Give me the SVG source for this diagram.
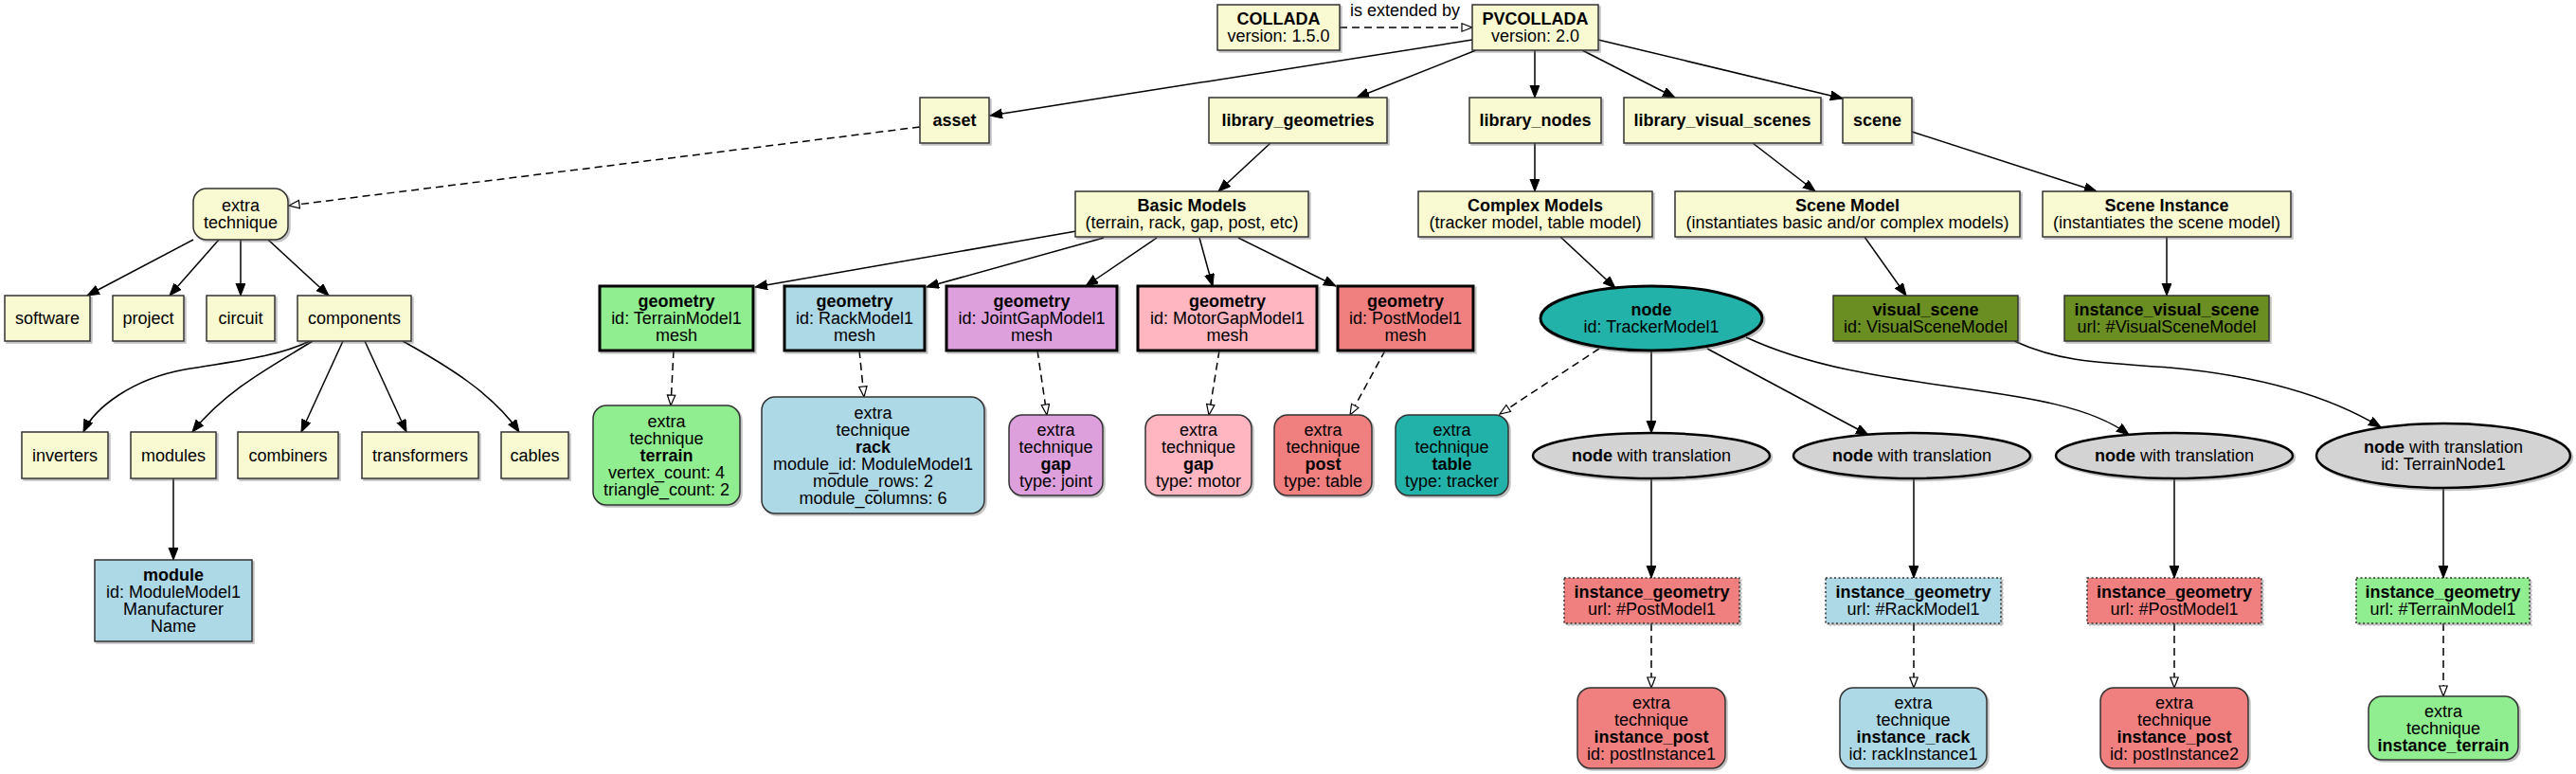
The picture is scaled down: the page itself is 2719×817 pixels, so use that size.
<svg xmlns="http://www.w3.org/2000/svg" width="2719" height="817" viewBox="0 0 2719 817">
<style>
text{font-family:"Liberation Sans",Arial,Helvetica,sans-serif;font-size:18px;text-anchor:middle;fill:#000}
.bd{font-weight:bold}
.box{stroke:#333;stroke-width:1.5}
.thick{stroke:#000;stroke-width:3}
.ell{stroke:#000;stroke-width:2.5}
.dot{stroke:#333;stroke-width:1.5;stroke-dasharray:2,2.5}
.y{fill:#fafad2}.g{fill:#90ee90}.b{fill:#add8e6}.p{fill:#dda0dd}.k{fill:#ffb6c1}.c{fill:#f08080}.t{fill:#20b2aa}.o{fill:#6b8e23}.gr{fill:#d3d3d3}
.e{fill:none;stroke:#000;stroke-width:1.5;marker-end:url(#ah)}
.d{fill:none;stroke:#000;stroke-width:1.5;stroke-dasharray:8,5;marker-end:url(#oh)}
.sh{filter:url(#shadow)}
</style>
<defs>
<marker id="ah" markerUnits="userSpaceOnUse" markerWidth="14" markerHeight="11" refX="13" refY="5" orient="auto">
<path d="M0,0 L13,5 L0,10 z" fill="#000" stroke="#000" stroke-width="1"/>
</marker>
<marker id="oh" markerUnits="userSpaceOnUse" markerWidth="14" markerHeight="11" refX="12" refY="5" orient="auto">
<path d="M1,0.8 L12,5 L1,9.2 z" fill="#fff" stroke="#000" stroke-width="1.2"/>
</marker>
<filter id="shadow" x="-5%" y="-5%" width="115%" height="125%">
<feDropShadow dx="2" dy="2" stdDeviation="0.6" flood-color="#666" flood-opacity="0.4"/>
</filter>
</defs>
<rect width="2719" height="817" fill="#fff"/>

<g id="edges">
<path class="d" d="M1414,29 L1554,29"/>
<text x="1483" y="17">is extended by</text>
<path class="e" d="M1554,42 L1045,122"/>
<path class="e" d="M1558,53 L1432,103"/>
<path class="e" d="M1620,53 L1620,103"/>
<path class="e" d="M1670,53 L1768,103"/>
<path class="e" d="M1687,42 L1945,104"/>
<path class="d" d="M971,134 L305,217"/>
<path class="e" d="M1341,151 L1286,202"/>
<path class="e" d="M1620,151 L1620,202"/>
<path class="e" d="M1850,151 L1916,202"/>
<path class="e" d="M2018,139 L2213,202"/>
<path class="e" d="M204,253 L92,312"/>
<path class="e" d="M231,253 L179,312"/>
<path class="e" d="M254,253 L254,312"/>
<path class="e" d="M283,253 L347,312"/>
<path class="e" d="M327,360 C290,378 240,382 195,390 C140,400 100,430 88,456"/>
<path class="e" d="M330,360 C290,385 240,410 203,456"/>
<path class="e" d="M362,360 L318,456"/>
<path class="e" d="M385,360 L429,456"/>
<path class="e" d="M425,360 C470,385 520,415 548,456"/>
<path class="e" d="M183,505 L183,591"/>
<path class="e" d="M1136,244 L797,303"/>
<path class="e" d="M1165,251 L978,303"/>
<path class="e" d="M1221,251 L1146,302"/>
<path class="e" d="M1266,251 L1280,302"/>
<path class="e" d="M1307,251 L1410,302"/>
<path class="d" d="M711,370 L708,428"/>
<path class="d" d="M907,370 L912,419"/>
<path class="d" d="M1095,370 L1105,438"/>
<path class="d" d="M1287,370 L1276,438"/>
<path class="d" d="M1462,370 L1425,438"/>
<path class="e" d="M1647,250 L1705,304"/>
<path class="e" d="M1968,250 L2012,312"/>
<path class="e" d="M2287,250 L2287,312"/>
<path class="d" d="M1688,368 L1583,437"/>
<path class="e" d="M1743,370 L1743,457"/>
<path class="e" d="M1802,368 L1972,459"/>
<path class="e" d="M1843,356 C1980,420 2170,400 2247,459"/>
<path class="e" d="M2126,360 C2170,380 2200,382 2290,388 C2400,398 2470,425 2513,451"/>
<path class="e" d="M1743,505 L1743,610"/>
<path class="e" d="M2020,505 L2020,610"/>
<path class="e" d="M2295,505 L2295,610"/>
<path class="e" d="M2579,515 L2579,610"/>
<path class="d" d="M1743,658 L1743,726"/>
<path class="d" d="M2020,658 L2020,726"/>
<path class="d" d="M2295,658 L2295,726"/>
<path class="d" d="M2579,658 L2579,735"/>
</g>

<g id="collada"><rect class="box y sh" x="1285" y="5" width="129" height="48"/><text x="1349.5" y="26" class="bd">COLLADA</text><text x="1349.5" y="44">version: 1.5.0</text></g>
<g id="pvcollada"><rect class="box y sh" x="1554" y="5" width="133" height="48"/><text x="1620.5" y="26" class="bd">PVCOLLADA</text><text x="1620.5" y="44">version: 2.0</text></g>

<g id="asset"><rect class="box y sh" x="971" y="103" width="73" height="48"/><text x="1007.5" y="133" class="bd">asset</text></g>
<g id="library_geometries"><rect class="box y sh" x="1276" y="103" width="188" height="48"/><text x="1370" y="133" class="bd">library_geometries</text></g>
<g id="library_nodes"><rect class="box y sh" x="1551" y="103" width="139" height="48"/><text x="1620.5" y="133" class="bd">library_nodes</text></g>
<g id="library_visual_scenes"><rect class="box y sh" x="1714" y="103" width="208" height="48"/><text x="1818" y="133" class="bd">library_visual_scenes</text></g>
<g id="scene"><rect class="box y sh" x="1945" y="103" width="73" height="48"/><text x="1981.5" y="133" class="bd">scene</text></g>

<g id="asset_extra"><rect class="box y sh" x="204" y="199" width="100" height="54" rx="14"/><text x="254" y="223">extra</text><text x="254" y="241">technique</text></g>
<g id="basic_models"><rect class="box y sh" x="1135" y="202" width="246" height="48"/><text x="1258" y="223" class="bd">Basic Models</text><text x="1258" y="241">(terrain, rack, gap, post, etc)</text></g>
<g id="complex_models"><rect class="box y sh" x="1497" y="202" width="247" height="48"/><text x="1620.5" y="223" class="bd">Complex Models</text><text x="1620.5" y="241">(tracker model, table model)</text></g>
<g id="scene_model"><rect class="box y sh" x="1768" y="202" width="364" height="48"/><text x="1950" y="223" class="bd">Scene Model</text><text x="1950" y="241">(instantiates basic and/or complex models)</text></g>
<g id="scene_instance"><rect class="box y sh" x="2156" y="202" width="262" height="48"/><text x="2287" y="223" class="bd">Scene Instance</text><text x="2287" y="241">(instantiates the scene model)</text></g>

<g id="software"><rect class="box y sh" x="5" y="312" width="90" height="48"/><text x="50" y="342">software</text></g>
<g id="project"><rect class="box y sh" x="119" y="312" width="75" height="48"/><text x="156.5" y="342">project</text></g>
<g id="circuit"><rect class="box y sh" x="218" y="312" width="72" height="48"/><text x="254" y="342">circuit</text></g>
<g id="components"><rect class="box y sh" x="314" y="312" width="120" height="48"/><text x="374" y="342">components</text></g>

<g id="geom_terrain"><rect class="thick g sh" x="633" y="302" width="162" height="68"/><text x="714" y="324" class="bd">geometry</text><text x="714" y="342">id: TerrainModel1</text><text x="714" y="360">mesh</text></g>
<g id="geom_rack"><rect class="thick b sh" x="828" y="302" width="148" height="68"/><text x="902" y="324" class="bd">geometry</text><text x="902" y="342">id: RackModel1</text><text x="902" y="360">mesh</text></g>
<g id="geom_joint"><rect class="thick p sh" x="999" y="302" width="180" height="68"/><text x="1089" y="324" class="bd">geometry</text><text x="1089" y="342">id: JointGapModel1</text><text x="1089" y="360">mesh</text></g>
<g id="geom_motor"><rect class="thick k sh" x="1201" y="302" width="189" height="68"/><text x="1295.5" y="324" class="bd">geometry</text><text x="1295.5" y="342">id: MotorGapModel1</text><text x="1295.5" y="360">mesh</text></g>
<g id="geom_post"><rect class="thick c sh" x="1412" y="302" width="143" height="68"/><text x="1483.5" y="324" class="bd">geometry</text><text x="1483.5" y="342">id: PostModel1</text><text x="1483.5" y="360">mesh</text></g>

<g id="node_tracker"><ellipse class="thick t sh" cx="1743" cy="336" rx="117" ry="34"/><text x="1743" y="333" class="bd">node</text><text x="1743" y="351">id: TrackerModel1</text></g>
<g id="visual_scene"><rect class="box o sh" x="1935" y="312" width="195" height="48"/><text x="2032.5" y="333" class="bd">visual_scene</text><text x="2032.5" y="351">id: VisualSceneModel</text></g>
<g id="instance_visual_scene"><rect class="box o sh" x="2179" y="312" width="216" height="48"/><text x="2287" y="333" class="bd">instance_visual_scene</text><text x="2287" y="351">url: #VisualSceneModel</text></g>

<g id="inverters"><rect class="box y sh" x="23" y="456" width="91" height="49"/><text x="68.5" y="487">inverters</text></g>
<g id="modules"><rect class="box y sh" x="138" y="456" width="90" height="49"/><text x="183" y="487">modules</text></g>
<g id="combiners"><rect class="box y sh" x="251" y="456" width="106" height="49"/><text x="304" y="487">combiners</text></g>
<g id="transformers"><rect class="box y sh" x="382" y="456" width="123" height="49"/><text x="443.5" y="487">transformers</text></g>
<g id="cables"><rect class="box y sh" x="529" y="456" width="71" height="49"/><text x="564.5" y="487">cables</text></g>

<g id="extra_terrain"><rect class="box g sh" x="626" y="428" width="155" height="105" rx="14"/><text x="703.5" y="450.5">extra</text><text x="703.5" y="468.5">technique</text><text x="703.5" y="486.5" class="bd">terrain</text><text x="703.5" y="504.5">vertex_count: 4</text><text x="703.5" y="522.5">triangle_count: 2</text></g>
<g id="extra_rack"><rect class="box b sh" x="804" y="419" width="235" height="123" rx="14"/><text x="921.5" y="441.5">extra</text><text x="921.5" y="459.5">technique</text><text x="921.5" y="477.5" class="bd">rack</text><text x="921.5" y="495.5">module_id: ModuleModel1</text><text x="921.5" y="513.5">module_rows: 2</text><text x="921.5" y="531.5">module_columns: 6</text></g>
<g id="extra_joint"><rect class="box p sh" x="1065" y="438" width="99" height="85" rx="14"/><text x="1114.5" y="459.5">extra</text><text x="1114.5" y="477.5">technique</text><text x="1114.5" y="495.5" class="bd">gap</text><text x="1114.5" y="513.5">type: joint</text></g>
<g id="extra_motor"><rect class="box k sh" x="1209" y="438" width="112" height="85" rx="14"/><text x="1265" y="459.5">extra</text><text x="1265" y="477.5">technique</text><text x="1265" y="495.5" class="bd">gap</text><text x="1265" y="513.5">type: motor</text></g>
<g id="extra_post"><rect class="box c sh" x="1345" y="438" width="103" height="85" rx="14"/><text x="1396.5" y="459.5">extra</text><text x="1396.5" y="477.5">technique</text><text x="1396.5" y="495.5" class="bd">post</text><text x="1396.5" y="513.5">type: table</text></g>
<g id="extra_table"><rect class="box t sh" x="1473" y="438" width="119" height="85" rx="14"/><text x="1532.5" y="459.5">extra</text><text x="1532.5" y="477.5">technique</text><text x="1532.5" y="495.5" class="bd">table</text><text x="1532.5" y="513.5">type: tracker</text></g>

<g id="node_t1"><ellipse class="ell gr sh" cx="1743" cy="481" rx="125" ry="24"/><text x="1743" y="487"><tspan class="bd">node</tspan> with translation</text></g>
<g id="node_t2"><ellipse class="ell gr sh" cx="2018" cy="481" rx="125" ry="24"/><text x="2018" y="487"><tspan class="bd">node</tspan> with translation</text></g>
<g id="node_t3"><ellipse class="ell gr sh" cx="2295" cy="481" rx="125" ry="24"/><text x="2295" y="487"><tspan class="bd">node</tspan> with translation</text></g>
<g id="node_t4"><ellipse class="ell gr sh" cx="2579" cy="481" rx="134" ry="34"/><text x="2579" y="478"><tspan class="bd">node</tspan> with translation</text><text x="2579" y="496">id: TerrainNode1</text></g>

<g id="module"><rect class="box b sh" x="100" y="591" width="166" height="86"/><text x="183" y="613" class="bd">module</text><text x="183" y="631">id: ModuleModel1</text><text x="183" y="649">Manufacturer</text><text x="183" y="667">Name</text></g>

<g id="ig1"><rect class="dot c sh" x="1651" y="610" width="185" height="48"/><text x="1743.5" y="631" class="bd">instance_geometry</text><text x="1743.5" y="649">url: #PostModel1</text></g>
<g id="ig2"><rect class="dot b sh" x="1927" y="610" width="185" height="48"/><text x="2019.5" y="631" class="bd">instance_geometry</text><text x="2019.5" y="649">url: #RackModel1</text></g>
<g id="ig3"><rect class="dot c sh" x="2203" y="610" width="184" height="48"/><text x="2295" y="631" class="bd">instance_geometry</text><text x="2295" y="649">url: #PostModel1</text></g>
<g id="ig4"><rect class="dot g sh" x="2487" y="610" width="183" height="48"/><text x="2578.5" y="631" class="bd">instance_geometry</text><text x="2578.5" y="649">url: #TerrainModel1</text></g>

<g id="ex_post1"><rect class="box c sh" x="1665" y="726" width="156" height="85" rx="14"/><text x="1743" y="747.5">extra</text><text x="1743" y="765.5">technique</text><text x="1743" y="783.5" class="bd">instance_post</text><text x="1743" y="801.5">id: postInstance1</text></g>
<g id="ex_rack"><rect class="box b sh" x="1942" y="726" width="155" height="85" rx="14"/><text x="2019.5" y="747.5">extra</text><text x="2019.5" y="765.5">technique</text><text x="2019.5" y="783.5" class="bd">instance_rack</text><text x="2019.5" y="801.5">id: rackInstance1</text></g>
<g id="ex_post2"><rect class="box c sh" x="2217" y="726" width="156" height="85" rx="14"/><text x="2295" y="747.5">extra</text><text x="2295" y="765.5">technique</text><text x="2295" y="783.5" class="bd">instance_post</text><text x="2295" y="801.5">id: postInstance2</text></g>
<g id="ex_terrain"><rect class="box g sh" x="2500" y="735" width="158" height="67" rx="14"/><text x="2579" y="756.5">extra</text><text x="2579" y="774.5">technique</text><text x="2579" y="792.5" class="bd">instance_terrain</text></g>
</svg>
